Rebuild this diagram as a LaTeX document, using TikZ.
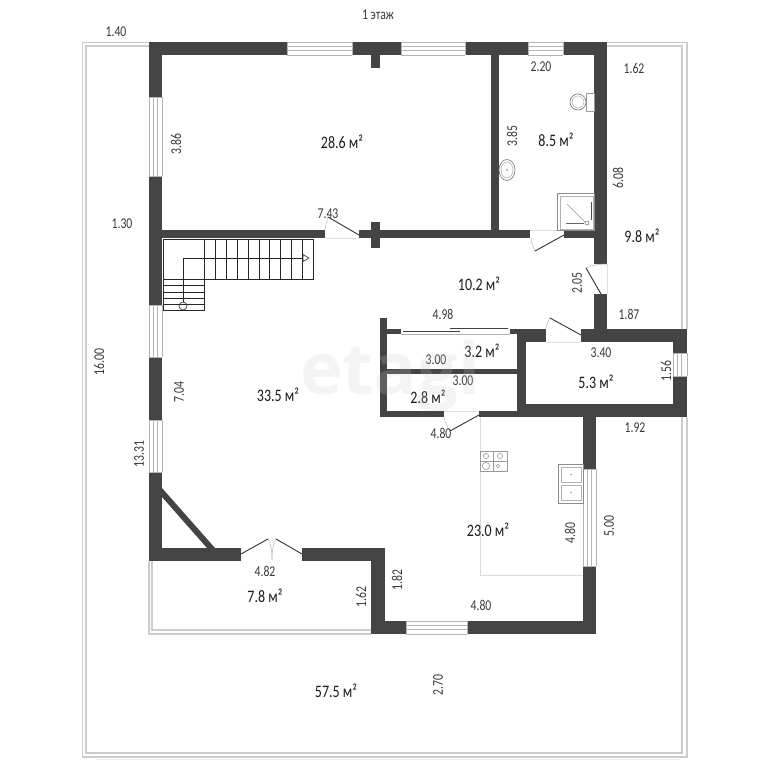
\documentclass[tikz,border=0pt]{standalone}
\usepackage{fontspec}
\setmainfont{Carlito}
\newfontfamily\dimfont[FakeStretch=0.78]{Carlito}
\newfontfamily\areafont[FakeStretch=0.8]{Carlito}
\newfontfamily\markfont{Open Sans}
\definecolor{wallc}{HTML}{444444}
\definecolor{framec}{HTML}{CCCCCC}
\definecolor{thinc}{HTML}{B4B4B4}
\definecolor{labc}{HTML}{3A3A3A}
\definecolor{areac}{HTML}{1C1C1C}
\tikzset{
  wall/.style={fill=wallc,draw=none},
  frameline/.style={draw=framec,line width=1.3pt},
  winedge/.style={draw=thinc,line width=.7pt},
  winmid/.style={draw=thinc,line width=.8pt},
  leaf/.style={draw=black!80,line width=.9pt,line cap=round},
  swing/.style={draw=thinc,line width=.5pt},
  sill/.style={draw=black!12,line width=.5pt},
  fixture/.style={draw=black!55,line width=.6pt},
  stairline/.style={draw=black!85,line width=.6pt},
  counter/.style={draw=black!14,line width=.6pt},
  dimlab/.style={inner sep=0pt,text=labc,font=\dimfont\fontsize{15}{15}\selectfont},
  vdimlab/.style={dimlab,rotate=90},
  arealab/.style={inner sep=0pt,text=areac,font=\areafont\fontsize{17.5}{17.5}\selectfont},
}
% horizontal window: x1 x2 y1 y2
\newcommand{\hwin}[4]{%
  \path[winedge] (#1,#3) -- (#2,#3) (#1,#4) -- (#2,#4);
  \path[winmid] (#1,{#3+4.8}) -- (#2,{#3+4.8}) (#1,{#3+8}) -- (#2,{#3+8});
  \path[winedge] (#1,#3) -- (#1,#4) (#2,#3) -- (#2,#4);
}
% vertical window: y1 y2 x1 x2
\newcommand{\vwin}[4]{%
  \path[winedge] (#3,#1) -- (#3,#2) (#4,#1) -- (#4,#2);
  \path[winmid] ({#3+4.8},#1) -- ({#3+4.8},#2) ({#3+8},#1) -- ({#3+8},#2);
  \path[winedge] (#3,#1) -- (#4,#1) (#3,#2) -- (#4,#2);
}
\begin{document}
\begin{tikzpicture}[x=1pt,y=-1pt]
\useasboundingbox (0,0) rectangle (768,768);
\fill[white] (0,0) rectangle (768,768);

% terrace frames
\draw[frameline] (149,42.5) -- (82.5,42.5) -- (82.5,757) -- (687,757) -- (687,417);
\draw[frameline] (149,46) -- (86,46) -- (86,753) -- (682,753) -- (682,417);
\draw[frameline] (607,42.5) -- (687,42.5) -- (687,329);
\draw[frameline] (607,46) -- (682,46) -- (682,329);
\draw[draw=black!7,line width=.8pt] (96,759) -- (680,759);
% balcony frame
\draw[frameline] (149,561) -- (149,634) -- (371,634);
\draw[frameline] (152,561) -- (152,630) -- (371,630);

% kitchen counter
\draw[counter] (480,417) -- (480,575) -- (583,575);

% walls: outer top
\fill[wall] (149,42) rectangle (287,55);
\fill[wall] (352,42) rectangle (401,55);
\fill[wall] (465,42) rectangle (528,55);
\fill[wall] (563,42) rectangle (607,55);
% outer left
\fill[wall] (149,42) rectangle (162,97);
\fill[wall] (149,176) rectangle (162,305);
\fill[wall] (149,357) rectangle (162,420);
\fill[wall] (149,472) rectangle (162,561);
% stub and cross
\fill[wall] (371,55) rectangle (380,68);
\fill[wall] (371,222) rectangle (380,248);
% horizontal partition
\fill[wall] (162,230) rectangle (325,238);
\fill[wall] (359,230) rectangle (530,238);
\fill[wall] (564,230) rectangle (594,238);
% bathroom partition
\fill[wall] (491,55) rectangle (499,230);
% right wall
\fill[wall] (594,42) rectangle (607,264);
\fill[wall] (594,294) rectangle (607,329);
% small room
\fill[wall] (581,329) rectangle (687,342);
\fill[wall] (510,329) rectangle (546,334);
\fill[wall] (517,329) rectangle (546,342);
\fill[wall] (517,342) rectangle (526,417);
\fill[wall] (673,342) rectangle (687,353);
\fill[wall] (673,376) rectangle (687,417);
\fill[wall] (526,404) rectangle (673,417);
\fill[wall] (479,411) rectangle (526,417);
% cupboards
\fill[wall] (380,318) rectangle (387,417);
\fill[wall] (387,329) rectangle (401,334);
\fill[wall] (387,369) rectangle (517,374);
\fill[wall] (387,411) rectangle (444,417);
% kitchen
\fill[wall] (583,417) rectangle (596,469);
\fill[wall] (583,566) rectangle (596,634);
\fill[wall] (467,621) rectangle (596,634);
\fill[wall] (371,621) rectangle (406,634);
\fill[wall] (371,548) rectangle (385,634);
% lower living room wall
\fill[wall] (302,548) rectangle (385,561);
\fill[wall] (149,548) rectangle (241,561);
\fill[wall] (162,488) -- (215,548) -- (207,548) -- (162,497) -- cycle;

% windows
\hwin{287}{352}{42}{55}
\hwin{401}{465}{42}{55}
\hwin{528}{563}{42}{55}
\hwin{406}{467}{621}{634}
\vwin{97}{176}{149}{162}
\vwin{305}{357}{149}{162}
\vwin{420}{472}{149}{162}
\vwin{469}{566}{583}{596}
\vwin{353}{376}{673}{687}

% sliding door
\draw[draw=black!75,line width=.8pt] (403,331) -- (460,331);
\draw[draw=black!75,line width=.8pt] (450,328.5) -- (508,328.5);
\draw[draw=black!30,line width=.5pt] (401,334) -- (510,334);

% doors
\draw[sill] (325,238) -- (359,238);
\draw[leaf] (359,235) -- (328,217);
\draw[swing] (325,230) .. controls (325.5,225) and (326.5,221) .. (328,217);
\draw[sill] (530,230) -- (564,230);
\draw[leaf] (564,235) -- (535,251);
\draw[swing] (531,238) .. controls (531.5,243) and (533,247) .. (535,251);
\draw[sill] (607,264) -- (607,294);
\draw[leaf] (601,294) -- (586,268);
\draw[swing] (586,268) .. controls (592,265) and (600,264) .. (607,264);
\draw[sill] (546,342) -- (581,342);
\draw[leaf] (581,335) -- (550,318);
\draw[swing] (546,329) .. controls (546.5,325) and (548,321) .. (550,318);
\draw[sill] (444,411) -- (479,411);
\draw[leaf] (479,415) -- (450,431);
\draw[swing] (444,417) .. controls (445,422) and (447,427) .. (450,431);
\draw[leaf] (241,554) -- (268,539);
\draw[leaf] (302,554) -- (276,539);
\draw[swing] (268,539) .. controls (271,544) and (272,552) .. (272,560);
\draw[swing] (276,539) .. controls (273,544) and (272,552) .. (272,560);

% stairs
\draw[stairline] (163,239) -- (313,239) -- (313,279) -- (204,279) -- (204,310) -- (163,310) -- cycle;
\draw[stairline] (204,239) -- (204,279);
\foreach \tx in {215,226,237,248,259,269,280,291,302} \draw[stairline] (\tx,239) -- (\tx,279);
\draw[stairline] (163,279) -- (204,279);
\foreach \ty in {285,292,298,304} \draw[stairline] (163,\ty) -- (204,\ty);
\draw[stairline] (183,302) -- (183,258) -- (303,258);
\draw[stairline] (303,254.5) -- (309,258) -- (303,261.5) -- cycle;
\draw[stairline] (183,306) circle (4);

% toilet
\fill[white,draw=black!40,line width=.6pt] (586,93) rectangle (594,111);
\draw[fixture] (578,102) ellipse (8 and 8);
\draw[draw=black!30,line width=.5pt] (578,102) ellipse (5.8 and 6);
% washbasin
\draw[fixture] (507,170) ellipse (8 and 10.5);
\draw[draw=black!35,line width=.5pt] (507,170) ellipse (6 and 8);
\fill[black!35] (507,170) circle (1.2);
% shower
\draw[draw=black!45,line width=.6pt] (557,193) rectangle (594,230);
\draw[draw=black!30,line width=.5pt] (560,196) rectangle (593,229);
\draw[draw=black!70,line width=.8pt] (591.5,202) -- (591.5,220);
\draw[draw=black!60,line width=.8pt] (566,223) -- (584,223);
\draw[draw=black!40,line width=.5pt] (567,204) -- (585,222);
\draw[draw=black!60,line width=.5pt] (587,223) circle (2);
% stove
\draw[draw=black!40,line width=.6pt] (480,451) rectangle (507,471);
\draw[draw=black!40,line width=.5pt] (493.5,451) -- (493.5,471) (480,461) -- (507,461);
\foreach \bx/\by/\br in {486/456/2.6,500/456/2.6,486/466/3.6,498/466/1.8} \draw[draw=black!40,line width=.6pt] (\bx,\by) circle (\br);
% kitchen sink
\draw[draw=black!45,line width=.6pt] (558,464) rectangle (583,503);
\draw[draw=black!30,line width=.5pt] (561,467) rectangle (581,482) (561,485) rectangle (581,500);
\fill[black!40] (571,474.5) circle (.9) (571,492.5) circle (.9);

% dimension labels
\node[dimlab] (t0) at (378,15) {1 этаж};
\node[dimlab] (d1) at (116,32) {1.40};
\node[dimlab] (d2) at (634,68) {1.62};
\node[dimlab] (d3) at (541,67) {2.20};
\node[vdimlab] (d4) at (176,144) {3.86};
\node[vdimlab] (d5) at (512,136) {3.85};
\node[vdimlab] (d6) at (618,178) {6.08};
\node[dimlab] (d7) at (328,214) {7.43};
\node[dimlab] (d8) at (122,224) {1.30};
\node[vdimlab] (d9) at (577,283) {2.05};
\node[vdimlab] (d10) at (99,362) {16.00};
\node[dimlab] (d11) at (443,314) {4.98};
\node[dimlab] (d12) at (629,314) {1.87};
\node[dimlab] (d13) at (436,360) {3.00};
\node[dimlab] (d14) at (601,353) {3.40};
\node[vdimlab] (d15) at (666,371) {1.56};
\node[dimlab] (d16) at (463,381) {3.00};
\node[vdimlab] (d17) at (179,392) {7.04};
\node[vdimlab] (d18) at (139,454) {13.31};
\node[dimlab] (d19) at (441,433) {4.80};
\node[dimlab] (d20) at (635,428) {1.92};
\node[vdimlab] (d21) at (570,533) {4.80};
\node[vdimlab] (d22) at (609,526) {5.00};
\node[dimlab] (d23) at (265,571) {4.82};
\node[vdimlab] (d24) at (361,597) {1.62};
\node[vdimlab] (d25) at (397,580) {1.82};
\node[dimlab] (d26) at (481,605) {4.80};
\node[vdimlab] (d27) at (438,685) {2.70};

% area labels
\node[arealab] (a1) at (342,142) {28.6 м²};
\node[arealab] (a2) at (556,140) {8.5 м²};
\node[arealab] (a3) at (642,236) {9.8 м²};
\node[arealab] (a4) at (479,284) {10.2 м²};
\node[arealab] (a5) at (482,351) {3.2 м²};
\node[arealab] (a6) at (596,382) {5.3 м²};
\node[arealab] (a7) at (428,397) {2.8 м²};
\node[arealab] (a8) at (278,395) {33.5 м²};
\node[arealab] (a9) at (488,530) {23.0 м²};
\node[arealab] (a10) at (265,596) {7.8 м²};
\node[arealab] (a11) at (336,691) {57.5 м²};

% watermark
\node[inner sep=0pt,text=black!20,text opacity=.2,font=\markfont\bfseries\fontsize{72}{72}\selectfont] (wm) at (390,376) {etagi};
\end{tikzpicture}
\end{document}
